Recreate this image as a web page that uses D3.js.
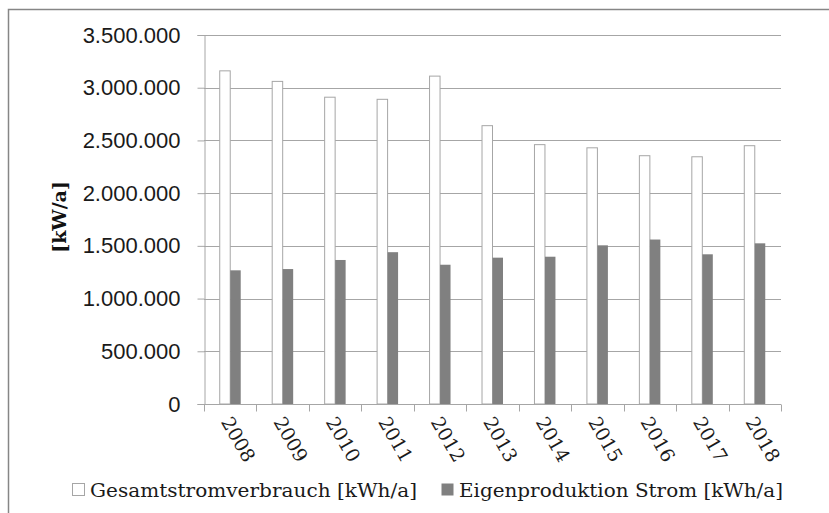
<!DOCTYPE html>
<html>
<head>
<meta charset="utf-8">
<script src="https://cdn.jsdelivr.net/npm/d3@7"></script>
<style>
  body { margin: 0; background: #fff; }
  svg { display: block; }
</style>
</head>
<body>
<div id="chart"></div>
<script>
const years = ["2008", "2009", "2010", "2011", "2012", "2013", "2014", "2015", "2016", "2017", "2018"];
const gesamt = [3160000, 3060000, 2910000, 2890000, 3110000, 2640000, 2460000, 2430000, 2355000, 2345000, 2450000];
const eigen = [1268000, 1280000, 1366000, 1440000, 1321000, 1388000, 1397000, 1505000, 1560000, 1420000, 1524000];
const yTicks = [0, 500000, 1000000, 1500000, 2000000, 2500000, 3000000, 3500000];
const seriesNames = ["Gesamtstromverbrauch [kWh/a]", "Eigenproduktion Strom [kWh/a]"];

const W = 829, H = 513;
const margin = {top: 35, right: 48, bottom: 109, left: 204};
const width = W - margin.left - margin.right,
      height = H - margin.top - margin.bottom;

const svg = d3.select("#chart")
              .append("svg")
              .attr("width", W)
              .attr("height", H);

// outer frame (cropped at right/bottom)
svg.append("rect")
   .attr("x", 8.5).attr("y", 9.5)
   .attr("width", W + 20).attr("height", H + 20)
   .attr("fill", "none")
   .attr("stroke", "#868686")
   .attr("stroke-width", 1.5);

const g = svg.append("g")
             .attr("transform", `translate(${margin.left},${margin.top})`);

const x = d3.scaleBand().domain(years).range([0, width]);
const y = d3.scaleLinear().domain([0, 3500000]).range([height, 0]);
const fmt = v => d3.format(",")(v).replace(/,/g, ".");

// gridlines
g.selectAll("line.grid")
 .data(yTicks.filter(d => d > 0))
 .enter().append("line")
 .attr("x1", 0).attr("x2", width)
 .attr("y1", d => Math.round(y(d)) + 0.5)
 .attr("y2", d => Math.round(y(d)) + 0.5)
 .attr("stroke", "#a6a6a6");

// bars
const barW = x.bandwidth() / 5;
const groups = g.selectAll("g.year")
                .data(years.map((d, i) => ({year: d, a: gesamt[i], b: eigen[i]})))
                .enter().append("g");
groups.append("rect")
      .attr("x", d => x(d.year) + x.bandwidth() / 2 - barW)
      .attr("y", d => y(d.a))
      .attr("width", barW)
      .attr("height", d => height - y(d.a))
      .attr("fill", "#fff")
      .attr("stroke", "#a6a6a6")
      .attr("stroke-width", 1);
groups.append("rect")
      .attr("x", d => x(d.year) + x.bandwidth() / 2)
      .attr("y", d => y(d.b))
      .attr("width", barW)
      .attr("height", d => height - y(d.b))
      .attr("fill", "#808080");

// y axis
const yAxis = d3.axisLeft(y).tickValues(yTicks).tickFormat(fmt).tickSizeOuter(0).tickSize(7).tickPadding(17);
const drawY = g.append("g").attr("transform", "translate(0.5,0)").call(yAxis);
drawY.select(".domain").attr("stroke", "#a6a6a6");
drawY.selectAll(".tick line").attr("stroke", "#a6a6a6");
drawY.selectAll(".tick text")
     .attr("fill", "#1a1a1a")
     .style("font-family", "'Liberation Sans', Arial, sans-serif")
     .style("font-size", "22px");

// x axis with boundary ticks
const drawX = g.append("g").attr("transform", `translate(0,${height + 0.5})`);
drawX.append("line").attr("x1", 0).attr("x2", width).attr("stroke", "#a6a6a6");
drawX.selectAll("line.tk")
     .data(years.concat(["end"]))
     .enter().append("line")
     .attr("x1", (d, i) => Math.round(i * x.step()) + 0.5)
     .attr("x2", (d, i) => Math.round(i * x.step()) + 0.5)
     .attr("y1", 0).attr("y2", 7)
     .attr("stroke", "#a6a6a6");
drawX.selectAll("text")
     .data(years)
     .enter().append("text")
     .attr("transform", d => `translate(${x(d) + x.bandwidth() / 2 - 4},${14}) rotate(60)`)
     .attr("dy", "0.35em")
     .attr("text-anchor", "start")
     .attr("fill", "#1a1a1a")
     .style("font-family", "'DejaVu Serif', serif")
     .style("font-size", "19px")
     .text(d => d);

// y title
svg.append("text")
   .attr("transform", "translate(66,217) rotate(-90)")
   .attr("text-anchor", "middle")
   .attr("fill", "#111")
   .style("font-family", "'DejaVu Serif', serif")
   .style("font-weight", "bold")
   .style("font-size", "19px")
   .text("[kW/a]");

// legend
const legend = svg.append("g");
const legX = [72, 441];
const legLen = [327, 324];
legend.selectAll("rect")
      .data(seriesNames)
      .enter().append("rect")
      .attr("x", (d, i) => legX[i] + 0.5)
      .attr("y", 483.5)
      .attr("width", 12).attr("height", 12)
      .attr("fill", (d, i) => i === 0 ? "#fff" : "#808080")
      .attr("stroke", (d, i) => i === 0 ? "#a6a6a6" : "none");
legend.selectAll("text")
      .data(seriesNames)
      .enter().append("text")
      .attr("x", (d, i) => legX[i] + 18)
      .attr("y", 497)
      .attr("textLength", (d, i) => legLen[i])
      .attr("lengthAdjust", "spacingAndGlyphs")
      .attr("fill", "#1a1a1a")
      .style("font-family", "'DejaVu Serif', serif")
      .style("font-size", "19px")
      .text(d => d);
</script>
</body>
</html>
